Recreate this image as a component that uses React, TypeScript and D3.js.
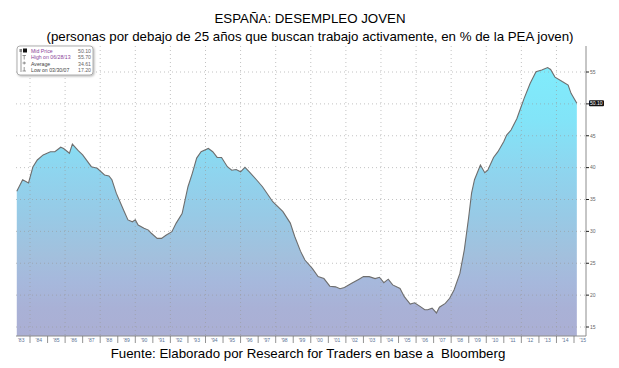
import React from 'react';
import * as d3 from 'd3';

// tasa de paro juvenil (<25 años), lectura aproximada del gráfico
const dates = [
  '1983-04', '1983-08', '1983-12', '1984-03', '1984-06', '1984-10', '1985-03', '1985-06',
  '1985-10', '1985-12', '1986-04', '1986-06', '1986-10', '1987-01', '1987-07', '1987-11',
  '1988-04', '1988-07', '1988-09', '1988-12', '1989-05', '1989-08', '1989-11', '1990-01',
  '1990-03', '1990-07', '1990-10', '1990-12', '1991-04', '1991-07', '1991-10', '1992-02',
  '1992-05', '1992-09', '1992-11', '1993-01', '1993-04', '1993-07', '1993-10', '1994-03',
  '1994-06', '1994-09', '1994-12', '1995-04', '1995-07', '1995-10', '1996-01', '1996-04',
  '1996-07', '1996-12', '1997-04', '1997-11', '1998-06', '1998-11', '1999-02', '1999-06',
  '1999-09', '2000-02', '2000-06', '2000-10', '2001-02', '2001-06', '2001-09', '2001-12',
  '2002-05', '2002-10', '2003-01', '2003-05', '2003-09', '2003-12', '2004-03', '2004-06',
  '2004-09', '2005-02', '2005-05', '2005-09', '2005-12', '2006-04', '2006-07', '2006-09',
  '2006-12', '2007-03', '2007-05', '2007-09', '2007-12', '2008-03', '2008-07', '2008-10',
  '2009-01', '2009-03', '2009-05', '2009-09', '2009-12', '2010-02', '2010-06', '2010-09',
  '2011-01', '2011-03', '2011-06', '2011-10', '2011-12', '2012-03', '2012-07', '2012-11',
  '2013-03', '2013-07', '2013-09', '2013-12', '2014-05', '2014-09', '2014-11', '2015-03',
];
const values = [
  36.3, 38.1, 37.6, 40.1, 41.2, 42.0, 42.5, 42.5,
  43.2, 43.0, 42.25, 43.7, 42.65, 42.0, 40.15, 39.9,
  38.85, 38.7, 38.1, 36.0, 33.35, 31.8, 31.5, 31.8,
  31.0, 30.5, 30.2, 29.7, 28.9, 28.9, 29.4, 29.95,
  31.3, 32.8, 34.9, 37.0, 39.1, 41.5, 42.5, 43.0,
  42.5, 41.6, 41.6, 40.15, 39.6, 39.7, 39.35, 40.05,
  39.35, 38.06, 37.0, 34.65, 33.1, 31.3, 29.2, 26.9,
  25.5, 24.2, 22.9, 22.6, 21.4, 21.3, 21.0, 21.2,
  21.85, 22.5, 22.9, 22.9, 22.6, 22.8, 21.95, 22.5,
  21.6, 21.05, 19.75, 18.6, 18.8, 18.2, 17.7, 17.7,
  17.95, 17.2, 18.1, 18.7, 19.5, 20.8, 23.4, 27.1,
  32.3, 36.0, 38.1, 40.4, 39.2, 39.6, 41.6, 42.5,
  44.1, 45.1, 45.9, 47.7, 49.0, 50.9, 53.2, 55.05,
  55.3, 55.7, 55.4, 54.2, 53.5, 52.96, 51.65, 50.1,
];
const yTicks = [15, 20, 25, 30, 35, 40, 45, 50, 55];
const years = d3.range(1983, 2016);
const legendLabels = ['Mid Price', 'High on 06/28/13', 'Average', 'Low on 03/30/07'];
const legendValues = ['50.10', '55.70', '34.61', '17.20'];
const title = 'ESPAÑA: DESEMPLEO JOVEN';
const subtitle = '(personas por debajo de 25 años que buscan trabajo activamente, en % de la PEA joven)';
const footer = 'Fuente: Elaborado por Research for Traders en base a\u00a0 Bloomberg';

const W = 619;
const H = 368;
const left = 16;
const right = 586;
const top = 46;
const bottom = 336;

export default function App() {
  const parse = d3.timeParse('%Y-%m');
  const data = dates.map((d, i) => ({ date: parse(d) as Date, value: values[i] }));

  const x = d3.scaleTime()
    .domain([new Date(1984, 0, 1), new Date(2015, 0, 1)])
    .range([30, 574]);
  const y = d3.scaleLinear().domain([15, 55]).range([327, 72]);

  const area = d3.area<{ date: Date; value: number }>()
    .x(d => x(d.date))
    .y0(bottom)
    .y1(d => y(d.value));
  const line = d3.line<{ date: Date; value: number }>()
    .x(d => x(d.date))
    .y(d => y(d.value));

  const gridYears = d3.range(1984, 2015, 2);
  const last = data[data.length - 1];

  return (
    <svg width={W} height={H} style={{ position: 'absolute', left: 0, top: 0, background: '#fff' }}
      fontFamily="Liberation Sans, Arial, sans-serif">
      <defs>
        <linearGradient id="fillGrad" gradientUnits="userSpaceOnUse" x1="0" y1={y(56)} x2="0" y2={bottom}>
          <stop offset="0" stopColor="#80ecfc" />
          <stop offset="0.2" stopColor="#82e4f8" />
          <stop offset="0.4" stopColor="#8fd4ee" />
          <stop offset="0.55" stopColor="#97cae6" />
          <stop offset="0.7" stopColor="#a2c0dd" />
          <stop offset="0.8" stopColor="#a6b8dc" />
          <stop offset="0.9" stopColor="#a9b1d6" />
          <stop offset="1" stopColor="#abafd4" />
        </linearGradient>
        <filter id="shadow" x="-10%" y="-10%" width="130%" height="140%">
          <feDropShadow dx="1" dy="1" stdDeviation="1" floodColor="#000" floodOpacity="0.3" />
        </filter>
      </defs>

      <text x={310} y={23} textAnchor="middle" fontSize={13.3}>{title}</text>
      <text x={310} y={41} textAnchor="middle" fontSize={13.3}>{subtitle}</text>

      <path d={area(data) || ''} fill="url(#fillGrad)" />

      {/* grid */}
      {yTicks.map(t => (
        <line key={'gy' + t} x1={left} x2={right} y1={y(t)} y2={y(t)}
          stroke="#9a9a9a" strokeOpacity={0.6} strokeDasharray="1,3" />
      ))}
      {gridYears.map(yr => (
        <line key={'gx' + yr} x1={x(new Date(yr, 0, 1))} x2={x(new Date(yr, 0, 1))} y1={top} y2={bottom}
          stroke="#9a9a9a" strokeOpacity={0.6} strokeDasharray="1,3" />
      ))}

      <path d={line(data) || ''} fill="none" stroke="#6e6e6e" strokeWidth={1.1} />

      {/* axes */}
      <line x1={right} x2={right} y1={top} y2={bottom} stroke="#8c8c8c" />
      <line x1={left} x2={right} y1={bottom} y2={bottom} stroke="#8c8c8c" />
      {yTicks.map(t => (
        <g key={'yt' + t}>
          <line x1={right} x2={right + 3} y1={y(t)} y2={y(t)} stroke="#222" />
          {Math.abs(t - last.value) > 2 && (
            <text x={right + 4} y={y(t) + 1.8} fontSize={5} fill="#666">{t}</text>
          )}
        </g>
      ))}
      {years.map(yr => {
        const x0 = x(new Date(yr, 0, 1));
        const xm = x(new Date(yr, 6, 1));
        return (
          <g key={'xt' + yr}>
            {yr > 1983 && <line x1={x0} x2={x0} y1={bottom} y2={bottom + 7} stroke="#777" strokeWidth={0.8} />}
            <text x={xm} y={bottom + 6} textAnchor="middle" fontSize={5} fill="#5d7496">
              {"'" + String(yr).slice(2)}
            </text>
          </g>
        );
      })}

      {/* last value tag */}
      <rect x={right + 3} y={y(last.value) - 3} width={15} height={6} rx={1} fill="#111" />
      <text x={right + 4} y={y(last.value) + 1.8} fontSize={5} fill="#fff">{last.value.toFixed(2)}</text>

      {/* legend */}
      <g>
        <rect x={17} y={46} width={76} height={29} rx={3} fill="#fff" stroke="#999" strokeWidth={0.8} filter="url(#shadow)" />
        <rect x={23} y={48.5} width={4} height={4} fill="#111" />
        <rect x={19.5} y={49} width={2.5} height={3} fill="#888" />
        <line x1={21} x2={21} y1={52} y2={72} stroke="#555" strokeWidth={0.6} />
        <line x1={22.5} x2={26} y1={55.5} y2={55.5} stroke="#555" strokeWidth={0.6} />
        <line x1={24.2} x2={24.2} y1={55.5} y2={59.5} stroke="#555" strokeWidth={0.6} />
        <line x1={22.5} x2={26} y1={63} y2={63} stroke="#555" strokeWidth={0.6} />
        <line x1={24.2} x2={24.2} y1={61.5} y2={64.5} stroke="#555" strokeWidth={0.6} />
        <line x1={22.5} x2={26} y1={71} y2={71} stroke="#555" strokeWidth={0.6} />
        <line x1={24.2} x2={24.2} y1={67} y2={71} stroke="#555" strokeWidth={0.6} />
        {legendLabels.map((l, i) => (
          <g key={l}>
            <text x={31} y={52.5 + i * 6.5} fontSize={5.2} fill={i < 2 ? '#8a3f9a' : '#444'}>{l}</text>
            <text x={91} y={52.5 + i * 6.5} fontSize={5.2} textAnchor="end" fill="#666">{legendValues[i]}</text>
          </g>
        ))}
      </g>

      <text x={308} y={358} textAnchor="middle" fontSize={13.3}>{footer}</text>
    </svg>
  );
}
